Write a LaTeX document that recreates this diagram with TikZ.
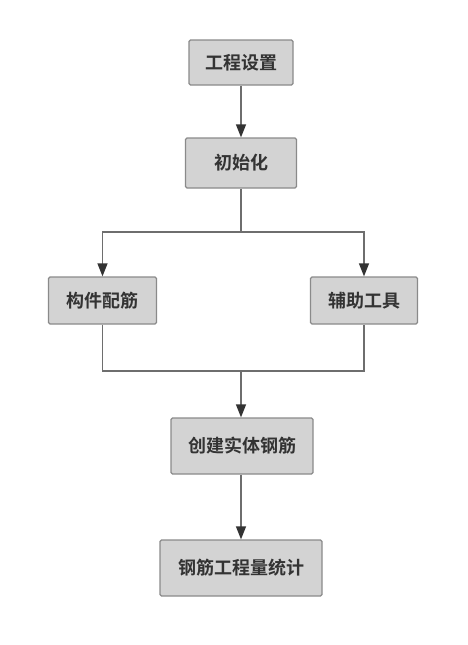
\documentclass[tikz,border=0pt]{standalone}
\usepackage{fontspec}
\newfontfamily\cjk{Noto Sans CJK SC}[BoldFont={Noto Sans CJK SC Bold}]
\usetikzlibrary{arrows.meta}
\definecolor{boxfill}{HTML}{D3D3D3}
\definecolor{boxline}{HTML}{8A8A8A}
\definecolor{linec}{HTML}{6E6E6E}
\definecolor{tipc}{HTML}{333333}
\definecolor{textc}{HTML}{333333}
\begin{document}
\begin{tikzpicture}[x=1pt,y=-1pt,
  box/.style={draw=boxline,fill=boxfill,line width=1.3pt,rounded corners=1.5pt,
    inner sep=0pt,font=\cjk\bfseries\fontsize{18}{21}\selectfont,text=textc},
  conn/.style={draw=linec,line width=1.3pt},
  arr/.style={conn,-{Triangle[length=13pt,width=10pt,color=tipc]}}]
\useasboundingbox (0,0) rectangle (467,645);
\node[box,minimum width=104pt,minimum height=45pt] (a) at (241,62.5) {工程设置};
\node[box,minimum width=111pt,minimum height=50pt] (b) at (241,163) {初始化};
\node[box,minimum width=108pt,minimum height=47pt] (c) at (102.5,300.5) {构件配筋};
\node[box,minimum width=107pt,minimum height=47pt] (d) at (364,300.5) {辅助工具};
\node[box,minimum width=142pt,minimum height=56pt] (e) at (242,446) {创建实体钢筋};
\node[box,minimum width=162pt,minimum height=56pt] (f) at (241,568) {钢筋工程量统计};
\coordinate (j1) at (241,232);
\coordinate (j1l) at (102.5,232);
\coordinate (j1r) at (364,232);
\coordinate (j2) at (241,371);
\coordinate (j2l) at (102.5,371);
\coordinate (j2r) at (364,371);
\draw[arr] (a) -- (b);
\draw[conn] (b.south) -- (j1);
\draw[arr] (j1) -- (j1l) -- (c.north);
\draw[arr] (j1) -- (j1r) -- (d.north);
\draw[conn] (c.south) -- (j2l) -- (j2r) -- (d.south);
\draw[arr] (j2) -- (e.north -| j2);
\draw[arr] (e.south -| a) -- (f.north);
\end{tikzpicture}
\end{document}
